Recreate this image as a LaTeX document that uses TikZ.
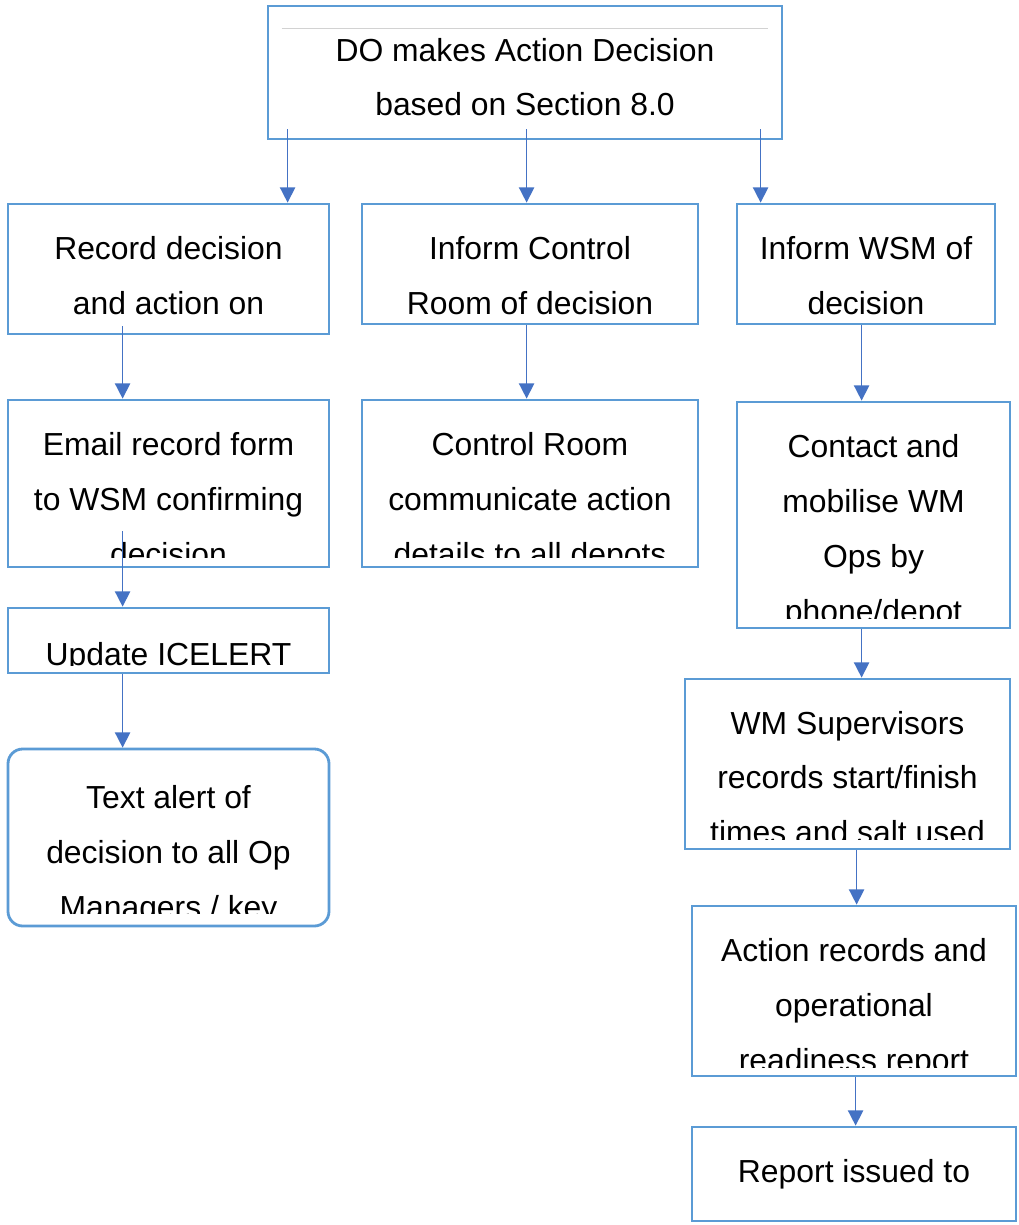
\documentclass[tikz,border=0pt]{standalone}
\usepackage{fontspec}
\setmainfont{Liberation Sans}
\usetikzlibrary{arrows.meta,calc}
\definecolor{boxblue}{HTML}{5B9BD5}
\definecolor{arrblue}{HTML}{4472C4}
\newdimen\pxu \pxu=0.75pt
\tikzset{
  box/.style={draw=boxblue, line width=2.1pt, fill=white, inner sep=0pt},
  rbox/.style={box, rounded corners=11pt},
  txt/.style={anchor=base, inner sep=0pt, font=\fontsize{23.9}{30}\selectfont, text=black},
  arr/.style={draw=arrblue, line width=1.2pt, -{Triangle[length=11.5pt,width=11.5pt]}}
}
\begin{document}
\begin{tikzpicture}[x=0.75pt,y=-0.75pt]
\useasboundingbox[fill=white] (0,0) rectangle (1018,1225);
% boxes
\node[box, minimum width=514\pxu, minimum height=133\pxu] (top) at (525,72.5) {};
\node[box, minimum width=321\pxu, minimum height=130\pxu] (A) at (168.5,269) {};
\node[box, minimum width=336\pxu, minimum height=120\pxu] (B) at (530,264) {};
\node[box, minimum width=258\pxu, minimum height=120\pxu] (C) at (866,264) {};
\node[box, minimum width=321\pxu, minimum height=167\pxu] (D) at (168.5,483.5) {};
\node[box, minimum width=336\pxu, minimum height=167\pxu] (E) at (530,483.5) {};
\node[box, minimum width=273\pxu, minimum height=226\pxu] (F) at (873.5,515) {};
\node[box, minimum width=321\pxu, minimum height=65\pxu] (G) at (168.5,640.5) {};
\node[rbox, minimum width=321\pxu, minimum height=177\pxu] (H) at (168.5,837.5) {};
\node[box, minimum width=325\pxu, minimum height=170\pxu] (I) at (847.5,764) {};
\node[box, minimum width=324\pxu, minimum height=170\pxu] (J) at (854,991) {};
\node[box, minimum width=324\pxu, minimum height=94\pxu] (K) at (854,1174) {};
% faint inner line of top box
\draw[gray!35, line width=0.75pt] ($(top.north west)+(15,24)$) -- ($(top.north east)+(-15,24)$);
% texts
\node[txt] (t1) at (525,61) {DO makes Action Decision};
\node[txt] (t2) at (525,115) {based on Section 8.0};
\node[txt] (a1) at (168.5,259) {Record decision};
\node[txt] (a2) at (168.5,314) {and action on};
\node[txt] (b1) at (530,259) {Inform Control};
\node[txt] (b2) at (530,314) {Room of decision};
\node[txt] (c1) at (866,259) {Inform WSM of};
\node[txt] (c2) at (866,314) {decision};
\begin{scope}
\clip ($(D.north west)+(0,2)$) rectangle ($(D.south east)+(0,-11)$);
\node[txt] (d1) at (168.5,455) {Email record form};
\node[txt] (d2) at (168.5,510) {to WSM confirming};
\node[txt] (d3) at (168.5,565) {decision};
\end{scope}
\begin{scope}
\clip ($(E.north west)+(0,2)$) rectangle ($(E.south east)+(0,-11)$);
\node[txt] (e1) at (530,455) {Control Room};
\node[txt] (e2) at (530,510) {communicate action};
\node[txt] (e3) at (530,565) {details to all depots};
\end{scope}
\begin{scope}
\clip ($(F.north west)+(0,2)$) rectangle ($(F.south east)+(0,-11)$);
\node[txt] (f1) at (873.5,457) {Contact and};
\node[txt] (f2) at (873.5,512) {mobilise WM};
\node[txt] (f3) at (873.5,567) {Ops by};
\node[txt] (f4) at (873.5,622) {phone/depot};
\end{scope}
\begin{scope}
\clip ($(G.north west)+(0,2)$) rectangle ($(G.south east)+(0,-9)$);
\node[txt] (g1) at (168.5,665.5) {Update ICELERT};
\end{scope}
\begin{scope}
\clip ($(H.north west)+(0,2)$) rectangle ($(H.south east)+(0,-14)$);
\node[txt] (h1) at (168.5,808) {Text alert of};
\node[txt] (h2) at (168.5,863) {decision to all Op};
\node[txt] (h3) at (168.5,918) {Managers / key};
\end{scope}
\begin{scope}
\clip ($(I.north west)+(0,2)$) rectangle ($(I.south east)+(0,-11)$);
\node[txt] (i1) at (847.5,734) {WM Supervisors};
\node[txt] (i2) at (847.5,788) {records start/finish};
\node[txt] (i3) at (847.5,843) {times and salt used};
\end{scope}
\begin{scope}
\clip ($(J.north west)+(0,2)$) rectangle ($(J.south east)+(0,-10)$);
\node[txt] (j1) at (854,961) {Action records and};
\node[txt] (j2) at (854,1016) {operational};
\node[txt] (j3) at (854,1071) {readiness report};
\end{scope}
\node[txt] (k1) at (854,1182) {Report issued to};
% connector start points
\coordinate (sA) at ($(top.south west)+(21,-11)$);
\coordinate (sB) at ($(top.south west)+(260,-11)$);
\coordinate (sC) at ($(top.south west)+(494,-11)$);
\coordinate (sD) at ($(A.south west)+(116,-9)$);
\coordinate (sE) at ($(B.south west)+(166,0)$);
\coordinate (sF) at ($(C.south west)+(126,0)$);
\coordinate (sG) at ($(D.south west)+(116,-37)$);
\coordinate (sH) at ($(G.south west)+(116,0)$);
\coordinate (sI) at ($(F.south west)+(126,0)$);
\coordinate (sJ) at ($(I.south west)+(173,0)$);
\coordinate (sK) at ($(J.south west)+(165,0)$);
% connectors
\draw[arr] (sA) -- (sA |- A.north);
\draw[arr] (sB) -- (sB |- B.north);
\draw[arr] (sC) -- (sC |- C.north);
\draw[arr] (sD) -- (sD |- D.north);
\draw[arr] (sE) -- (sE |- E.north);
\draw[arr] (sF) -- (sF |- F.north);
\draw[arr] (sG) -- (sG |- G.north);
\draw[arr] (sH) -- (sH |- H.north);
\draw[arr] (sI) -- (sI |- I.north);
\draw[arr] (sJ) -- (sJ |- J.north);
\draw[arr] (sK) -- (sK |- K.north);
\end{tikzpicture}
\end{document}
